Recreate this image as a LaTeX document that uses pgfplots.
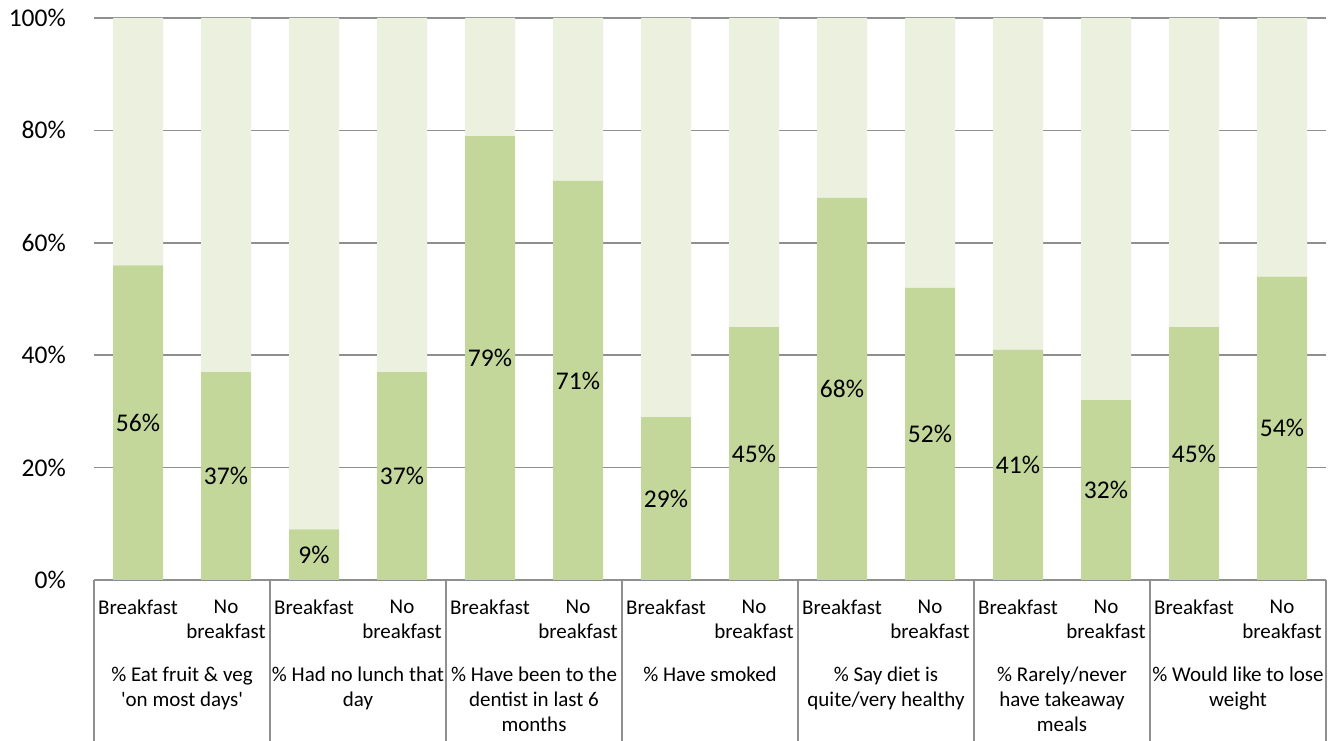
\documentclass[border=0pt]{standalone}
\usepackage{pgfplots}
\pgfplotsset{compat=1.18}
\usepackage{fontspec}
\setmainfont{Carlito}
\definecolor{barg}{HTML}{C4D79B}
\definecolor{barl}{HTML}{EBF1DE}
\definecolor{gridg}{HTML}{8F8F8F}
\begin{document}
\begin{tikzpicture}[x=1bp,y=1bp]
\useasboundingbox (0,0) rectangle (1338,740);
\begin{axis}[
  at={(94bp,160bp)}, anchor=south west,
  width=1232bp, height=562bp, scale only axis,
  xmin=-0.5, xmax=13.5, ymin=0, ymax=100,
  ybar stacked, bar width=50bp,
  axis line style={draw=none},
  ymajorgrids, grid style={draw=gridg, line width=1.5bp},
  major tick length=0pt,
  ytick={0,20,40,60,80,100},
  yticklabels={0\%,20\%,40\%,60\%,80\%,100\%},
  yticklabel style={inner sep=0pt, xshift=-28bp, font=\fontsize{25.5bp}{30bp}\selectfont},
  xtick={0,...,13},
  xticklabels={Breakfast,{No\\breakfast},Breakfast,{No\\breakfast},Breakfast,{No\\breakfast},Breakfast,{No\\breakfast},Breakfast,{No\\breakfast},Breakfast,{No\\breakfast},Breakfast,{No\\breakfast}},
  xticklabel style={inner sep=0pt, anchor=north, yshift=-20bp, align=center, font=\fontsize{21bp}{25bp}\selectfont},
  clip=false,
  /pgf/number format/assume math mode=true,
]
\addplot[fill=barg, draw=none,
  point meta=rawy,
  nodes near coords={\pgfmathprintnumber{\pgfplotspointmeta}\%},
  every node near coord/.append style={anchor=center, inner sep=0pt, font=\fontsize{25.5bp}{30bp}\selectfont, text=black},
] coordinates {
 (0,56) (1,37) (2,9) (3,37) (4,79) (5,71) (6,29) (7,45) (8,68) (9,52) (10,41) (11,32) (12,45) (13,54)
};
\addplot[fill=barl, draw=none] coordinates {
 (0,44) (1,63) (2,91) (3,63) (4,21) (5,29) (6,71) (7,55) (8,32) (9,48) (10,59) (11,68) (12,55) (13,46)
};
\draw[gridg, line width=1.5bp] (axis cs:-0.5,0) -- (axis cs:13.5,0);
\pgfplotsinvokeforeach{-0.5,1.5,3.5,5.5,7.5,9.5,11.5,13.5}{
  \draw[gridg, line width=1.5bp] (axis cs:#1,0) -- (axis cs:#1,-28.6);
}
\tikzset{grp/.style={anchor=north, inner sep=0pt, yshift=-87bp, align=center, font=\fontsize{21bp}{25bp}\selectfont}}
\node[grp] at (axis cs:0.5,0) {\% Eat fruit \& veg\\\textquotesingle on most days\textquotesingle};
\node[grp] at (axis cs:2.5,0) {\% Had no lunch that\\day};
\node[grp] at (axis cs:4.5,0) {\% Have been to the\\dentist in last 6\\months};
\node[grp] at (axis cs:6.5,0) {\% Have smoked};
\node[grp] at (axis cs:8.5,0) {\% Say diet is\\quite/very healthy};
\node[grp] at (axis cs:10.5,0) {\% Rarely/never\\have takeaway\\meals};
\node[grp] at (axis cs:12.5,0) {\% Would like to lose\\weight};
\end{axis}
\end{tikzpicture}
\end{document}
